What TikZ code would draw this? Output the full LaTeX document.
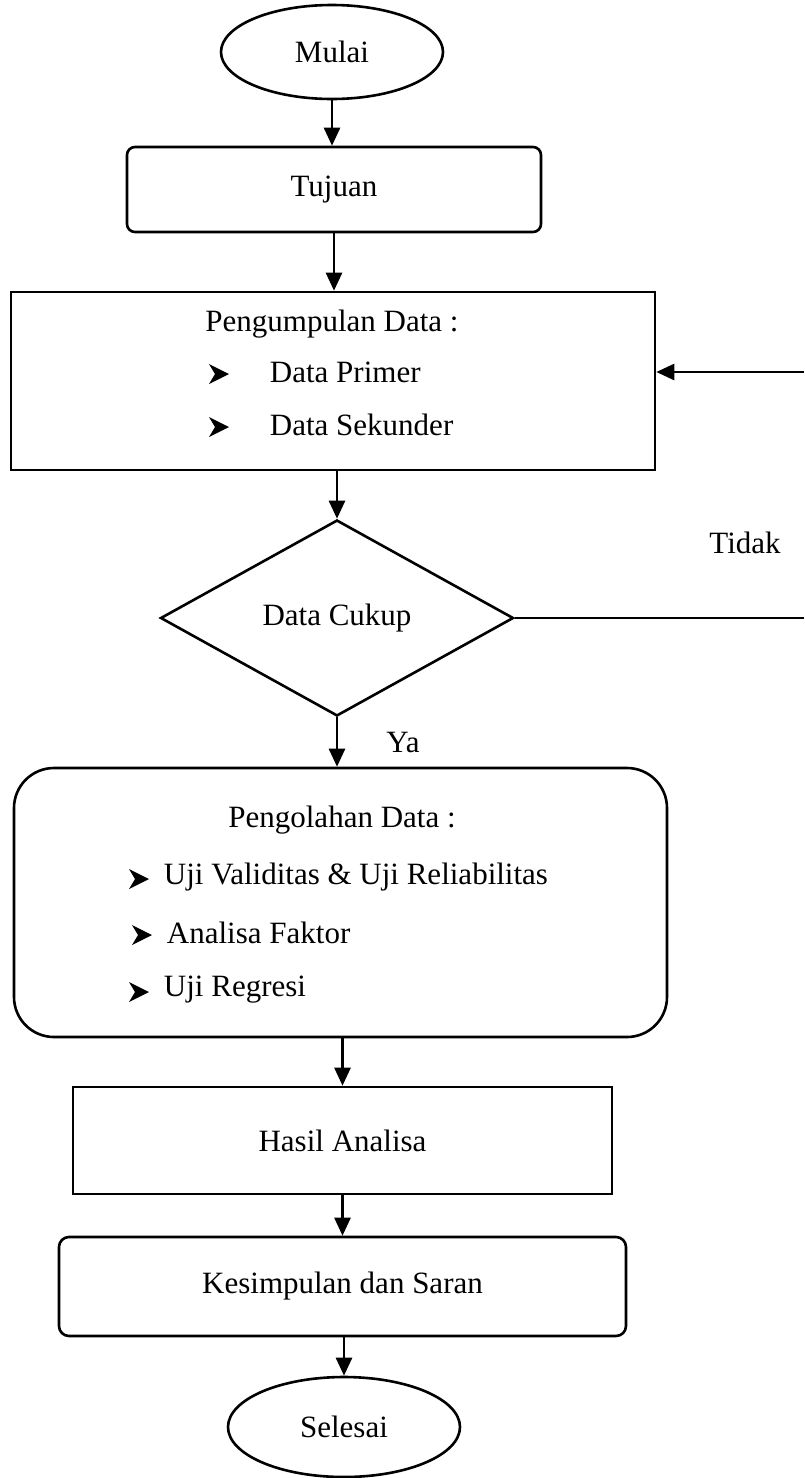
\documentclass[tikz,border=0pt]{standalone}
\usepackage{fontspec}
\setmainfont{Liberation Serif}
\usetikzlibrary{shapes.geometric,arrows.meta}

\begin{document}
\begin{tikzpicture}[x=0.5pt,y=-0.5pt,line width=1.3pt,
    font=\fontsize{15.5}{18}\selectfont,
    term/.style={ellipse,draw,inner sep=0pt},
    box/.style={rectangle,draw,inner sep=0pt},
    arr/.style={-{Triangle[length=9pt,width=8pt]}},
    panah/.pic={\fill (-10,-10) -- (10,0) -- (-10,10) -- (-4,0) -- cycle;}]
        \useasboundingbox (0,0) rectangle (804,1478);

        % start, aim, data collection
        \node[term,minimum width=111pt,minimum height=47pt] (mulai) at (332,52) {Mulai};
        \node[box,rounded corners=4pt,minimum width=207pt,minimum height=42.5pt] (tujuan) at (334,189.5) {Tujuan};
        \node[box,minimum width=322pt,minimum height=89pt] (kumpul) at (333,381) {};
        \node (kumpulJudul) at (332,324) {Pengumpulan Data :};
        \pic at (219,374) {panah};
        \node[anchor=west] (primer) at (262,372) {Data Primer};
        \pic at (219,427) {panah};
        \node[anchor=west] (sekunder) at (262,425) {Data Sekunder};

        % decision
        \node[diamond,draw,inner sep=0pt,minimum width=176.5pt,minimum height=98pt] (cukup) at (337,618) {Data Cukup};
        \node (tidak) at (745,543) {Tidak};
        \node (ya) at (403,742) {Ya};

        % processing
        \node[box,rounded corners=20pt,minimum width=326.5pt,minimum height=134.5pt] (olah) at (340.5,902.5) {};
        \node (olahJudul) at (342,820) {Pengolahan Data :};
        \pic at (139,879) {panah};
        \node[anchor=west] (uji) at (156,877) {Uji Validitas \& Uji Reliabilitas};
        \pic at (142,935) {panah};
        \node[anchor=west] (faktor) at (159,933) {Analisa Faktor};
        \pic at (139,992) {panah};
        \node[anchor=west] (regresi) at (156,990) {Uji Regresi};

        % results and end
        \node[box,minimum width=269.5pt,minimum height=53.5pt] (hasil) at (342.5,1140.5) {Hasil Analisa};
        \node[box,rounded corners=5pt,minimum width=283.5pt,minimum height=49.5pt] (saran) at (342.5,1286.5) {Kesimpulan dan Saran};
        \node[term,minimum width=116pt,minimum height=50pt] (selesai) at (344,1427) {Selesai};

        \coordinate (tidakR) at (804,618);
        \coordinate (balikR) at (804,372);

        \draw[arr] (mulai.south) -- (mulai.south |- tujuan.north);
        \draw[arr] (tujuan.south) -- (tujuan.south |- kumpul.north);
        \draw[arr] (cukup.north |- kumpul.south) -- (cukup.north);
        \draw[arr] (cukup.south) -- (cukup.south |- olah.north);
        \draw[arr] (hasil.north |- olah.south) -- (hasil.north);
        \draw[arr] (hasil.south) -- (hasil.south |- saran.north);
        \draw[arr] (selesai.north |- saran.south) -- (selesai.north);
        \draw (cukup.east) -- (tidakR);
        \draw[arr] (balikR) -- (kumpul.east |- balikR);
      \end{tikzpicture}
\end{document}
